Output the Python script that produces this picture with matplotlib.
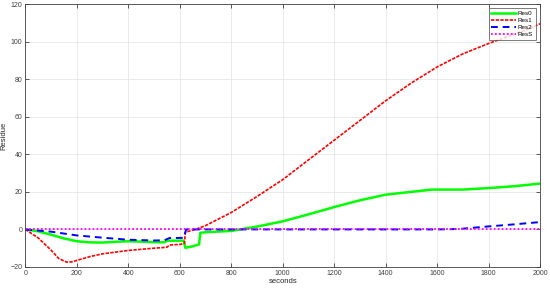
import matplotlib
matplotlib.use("Agg")
import matplotlib.pyplot as plt

plt.rcParams['font.family'] = ['Liberation Sans', 'DejaVu Sans']

# Res0 (green, solid)
t0 = [0, 50, 100, 150, 200, 250, 300, 350, 400, 450, 500, 540, 550, 615, 622, 650, 675, 680,
      700, 800, 900, 1000, 1100, 1200, 1300, 1400, 1500, 1580, 1700, 1800, 1900, 2000]
res0 = [0, -1, -2.8, -4.8, -6.3, -6.9, -7, -6.6, -6.3, -6.5, -6.8, -6.9, -6.0, -6.0, -9.8, -9.0, -8.0, -1.8,
        -1.5, -0.8, 1.5, 4.3, 8, 11.9, 15.5, 18.5, 20, 21.2, 21.2, 22, 23, 24.4]

# Res1 (red, dashed)
t1 = [0, 50, 100, 130, 160, 180, 200, 250, 300, 400, 500, 550, 560, 600, 618, 622, 660,
      700, 800, 900, 1000, 1100, 1200, 1300, 1400, 1500, 1600, 1700, 1800, 1900, 1950, 2000]
res1 = [0, -4.5, -11, -15.5, -17.4, -17.3, -16.5, -14.5, -13, -11.2, -10, -9.5, -8.3, -8, -7.5, -1.5, 0,
        2, 9, 17.5, 26.5, 37, 47.5, 58, 68.5, 78, 86.5, 93.5, 99, 104, 106.5, 109.5]

# Res2 (blue, dashed)
t2 = [0, 100, 200, 300, 400, 500, 540, 560, 615, 625, 1000, 1600, 1650, 1700, 1800, 1900, 2000]
res2 = [0, -1.2, -3.2, -4.4, -5.5, -5.9, -5.8, -4.6, -4.5, 0, 0, 0, 0.1, 0.4, 1.6, 2.7, 3.9]

# ResS (magenta, dotted)
t3 = [0, 2000]
res3 = [0, 0]

fig = plt.figure(figsize=(5.5, 2.88), dpi=100)
ax = fig.add_axes([0.046, 0.073, 0.936, 0.913])

ax.plot(t0, res0, color='#00ff00', lw=1.8, label='Res0')
ax.plot(t1, res1, color='#ff0000', lw=1.2, ls=(0, (2, 0.8)), label='Res1')
ax.plot(t2, res2, color='#0000ff', lw=1.4, ls=(0, (3.5, 2.5)), label='Res2')
ax.plot(t3, res3, color='#ff00ff', lw=1.3, ls=(0, (1, 1.2)), label='ResS')

ax.set_xlim(0, 2000)
ax.set_ylim(-20, 120)
ax.set_xticks(range(0, 2001, 200))
ax.set_yticks(range(-20, 121, 20))
ax.grid(True, color='#e6e6e6', lw=0.6)
ax.set_axisbelow(True)
ax.tick_params(direction='in', top=True, right=True, labelsize=5, colors='#404040',
               length=3, width=0.6, pad=2)
for s in ax.spines.values():
    s.set_color('#404040')
    s.set_linewidth(0.6)
ax.set_xlabel('seconds', fontsize=5.5, labelpad=1, color='#262626')
ax.set_ylabel('Residue', fontsize=5.5, labelpad=2, color='#262626')

leg = ax.legend(loc='upper right', fontsize=4.5, frameon=True, fancybox=False,
                edgecolor='#404040', handlelength=4, borderpad=0.4, labelspacing=0.25,
                handletextpad=0.3, borderaxespad=0.7)
leg.get_frame().set_linewidth(0.6)

fig.savefig('out.png', dpi=100)
